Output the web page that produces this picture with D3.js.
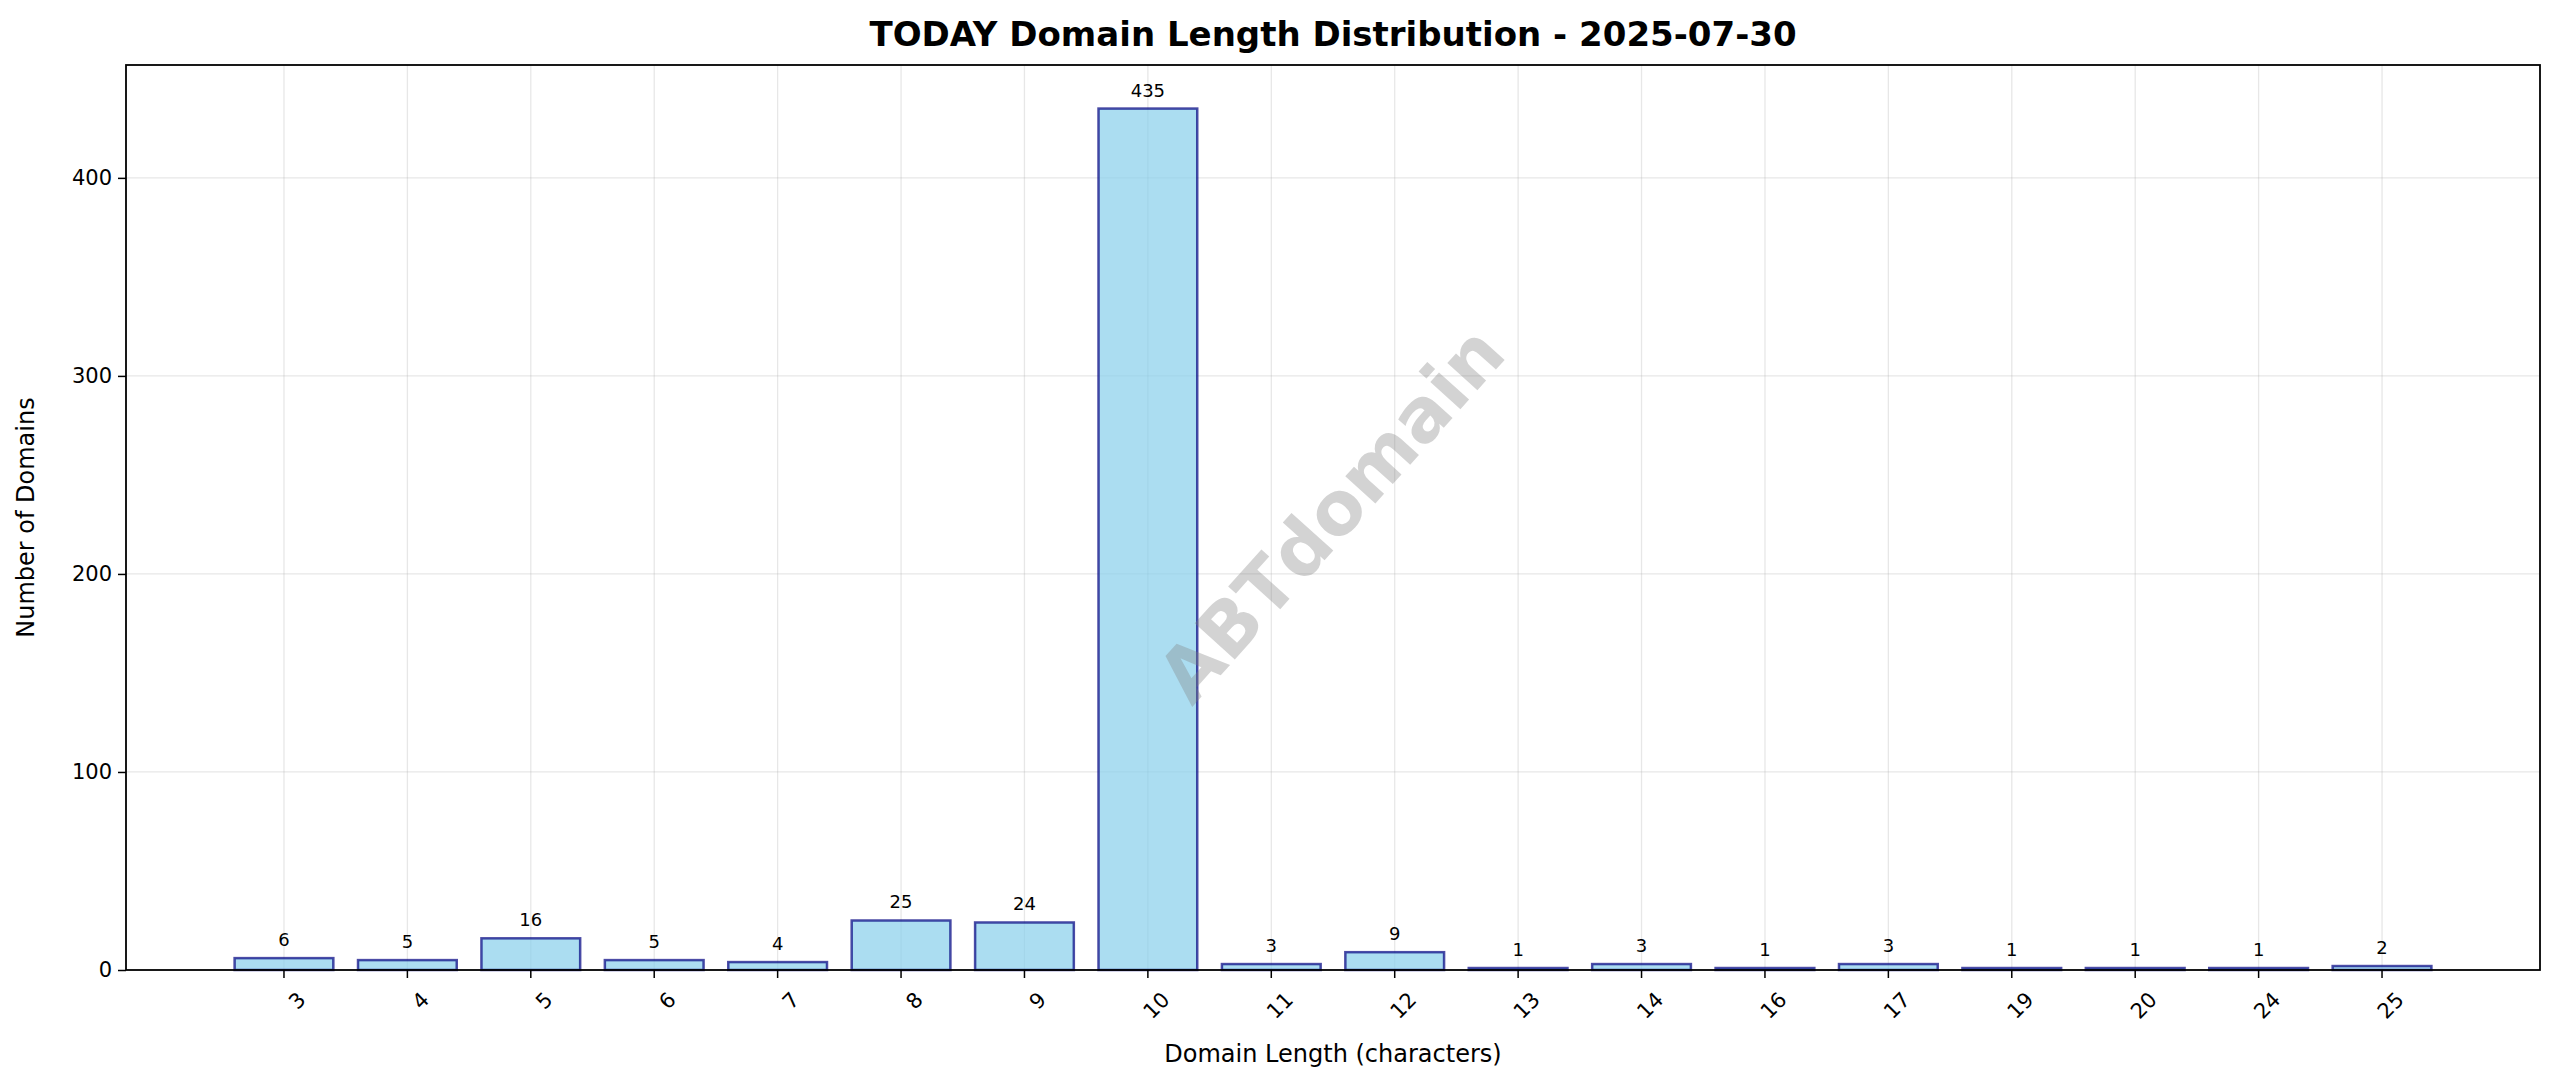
<!DOCTYPE html>
<html>
<head>
<meta charset="utf-8">
<script src="https://cdn.jsdelivr.net/npm/d3@7"></script>
<style>
  body { margin: 0; background: #fff; }
  text { font-family: "DejaVu Sans", sans-serif; }
</style>
</head>
<body>
<svg id="chart" width="2560" height="1087"></svg>
<script>
// data
var lengths = ["3","4","5","6","7","8","9","10","11","12","13","14","16","17","19","20","24","25"];
var counts = [6,5,16,5,4,25,24,435,3,9,1,3,1,3,1,1,1,2];
var yTicks = [0,100,200,300,400];

var svg = d3.select("#chart");
var pLeft = 126, pRight = 2540, pTop = 65, pBottom = 970;

var x = d3.scaleBand().domain(lengths).range([pLeft, pRight])
  .paddingInner(0.2).paddingOuter(0.88);
var y = d3.scaleLinear().domain([0, 457]).range([pBottom, pTop]);

// grid
svg.append("g").selectAll("line").data(yTicks).enter().append("line")
  .attr("x1", pLeft).attr("x2", pRight)
  .attr("y1", function(d) { return y(d); }).attr("y2", function(d) { return y(d); })
  .attr("stroke", "#b0b0b0").attr("stroke-opacity", 0.3).attr("stroke-width", 1.3);
svg.append("g").selectAll("line").data(lengths).enter().append("line")
  .attr("x1", function(d) { return x(d) + x.bandwidth() / 2; })
  .attr("x2", function(d) { return x(d) + x.bandwidth() / 2; })
  .attr("y1", pTop).attr("y2", pBottom)
  .attr("stroke", "#b0b0b0").attr("stroke-opacity", 0.3).attr("stroke-width", 1.3);

// bars
svg.append("g").selectAll("rect").data(counts).enter().append("rect")
  .attr("x", function(d, i) { return x(lengths[i]); })
  .attr("width", x.bandwidth())
  .attr("y", function(d) { return y(d); })
  .attr("height", function(d) { return pBottom - y(d); })
  .attr("fill", "skyblue").attr("fill-opacity", 0.7)
  .attr("stroke", "navy").attr("stroke-opacity", 0.7).attr("stroke-width", 2.5);

// value labels
svg.append("g").selectAll("text").data(counts).enter().append("text")
  .attr("x", function(d, i) { return x(lengths[i]) + x.bandwidth() / 2; })
  .attr("y", function(d) { return y(d) - 12; })
  .attr("text-anchor", "middle").attr("font-size", 18)
  .text(function(d) { return d; });

// watermark
svg.append("text")
  .attr("transform", "translate(1331,514) rotate(-48)")
  .attr("text-anchor", "middle").attr("dominant-baseline", "central")
  .attr("font-size", 74).attr("font-weight", "bold")
  .attr("fill", "gray").attr("fill-opacity", 0.35)
  .text("ABTdomain");

// axes
var xAxis = svg.append("g").attr("transform", "translate(0," + pBottom + ")")
  .call(d3.axisBottom(x).tickSize(8).tickPadding(6));
xAxis.selectAll("text").attr("font-size", 21).attr("fill", "#000")
  .attr("text-anchor", "end").attr("dy", "0.35em")
  .attr("transform", "translate(8,16) rotate(-45)");
var yAxis = svg.append("g").attr("transform", "translate(" + pLeft + ",0)")
  .call(d3.axisLeft(y).tickValues(yTicks).tickSize(8).tickPadding(6));
yAxis.selectAll("text").attr("font-size", 21).attr("fill", "#000");
svg.selectAll(".domain").remove();
svg.selectAll(".tick line").attr("stroke", "#000").attr("stroke-width", 1.5);

svg.append("rect").attr("x", pLeft).attr("y", pTop)
  .attr("width", pRight - pLeft).attr("height", pBottom - pTop)
  .attr("fill", "none").attr("stroke", "#000").attr("stroke-width", 1.8);

// titles
svg.append("text").attr("x", (pLeft + pRight) / 2).attr("y", 46)
  .attr("text-anchor", "middle").attr("font-size", 34).attr("font-weight", "bold")
  .text("TODAY Domain Length Distribution - 2025-07-30");
svg.append("text").attr("x", (pLeft + pRight) / 2).attr("y", 1062)
  .attr("text-anchor", "middle").attr("font-size", 24)
  .text("Domain Length (characters)");
svg.append("text").attr("transform", "translate(34," + (pTop + pBottom) / 2 + ") rotate(-90)")
  .attr("text-anchor", "middle").attr("font-size", 24)
  .text("Number of Domains");
</script>
</body>
</html>
